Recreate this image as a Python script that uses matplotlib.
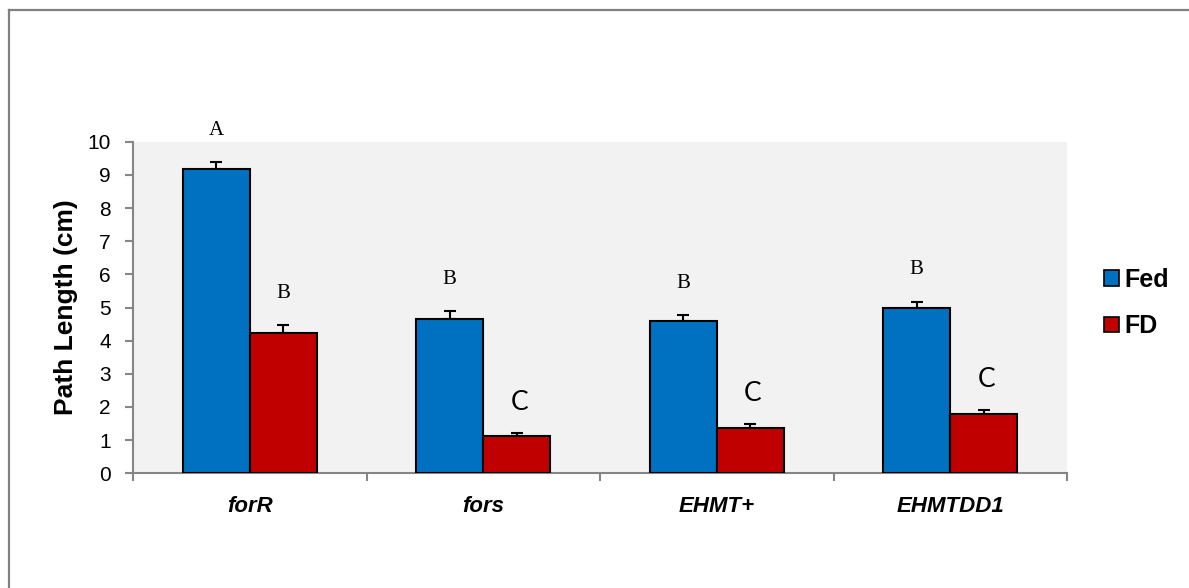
import matplotlib
matplotlib.use("Agg")
import matplotlib.pyplot as plt
from matplotlib.patches import Patch
from matplotlib.lines import Line2D
import numpy as np

categories = ["forR", "fors", "EHMT+", "EHMTDD1"]
fed = [9.17, 4.65, 4.59, 4.98]
fed_err = [0.21, 0.23, 0.17, 0.19]
fd = [4.24, 1.12, 1.37, 1.79]
fd_err = [0.23, 0.10, 0.12, 0.11]
fed_letters = ["A", "B", "B", "B"]
fd_letters = ["B", "C", "C", "C"]

blue = "#0070C0"
red = "#C00000"
grey = "#868686"

fig = plt.figure(figsize=(11.89, 5.88), dpi=100)
ax = fig.add_axes([133 / 1189, 114.7 / 588, 934 / 1189, 331.6 / 588])
ax.set_facecolor("#F2F2F2")

x = np.arange(len(categories))
w = 0.287
ax.bar(x - w / 2, fed, w, color=blue, edgecolor="black", linewidth=1.5, zorder=3)
ax.bar(x + w / 2, fd, w, color=red, edgecolor="black", linewidth=1.5, zorder=3)
ax.errorbar(x - w / 2, fed, yerr=[[0] * 4, fed_err], fmt="none", ecolor="black",
            elinewidth=1.5, capsize=4.3, capthick=1.5, zorder=2)
ax.errorbar(x + w / 2, fd, yerr=[[0] * 4, fd_err], fmt="none", ecolor="black",
            elinewidth=1.5, capsize=4.3, capthick=1.5, zorder=2)

def letter(xp, top, s):
    if s == "C":
        ax.annotate(s, (xp, top), xytext=(2, 22), textcoords="offset points",
                    ha="center", va="center", fontsize=19, family="Lato",
                    annotation_clip=False)
    else:
        ax.annotate(s, (xp, top), xytext=(0, 23), textcoords="offset points",
                    ha="center", va="center", fontsize=15, family="Liberation Serif",
                    annotation_clip=False)

for i in range(len(categories)):
    letter(x[i] - w / 2, fed[i] + fed_err[i], fed_letters[i])
    letter(x[i] + w / 2, fd[i] + fd_err[i], fd_letters[i])

ax.set_xlim(-0.5, 3.5)
ax.set_ylim(0, 10)
ax.set_yticks(range(0, 11))
ax.tick_params(axis="y", length=6, width=1.5, color=grey, pad=10,
               labelsize=15, direction="out")
for lab in ax.get_yticklabels():
    lab.set_family("Liberation Sans")

ax.set_xticks(x)
ax.set_xticklabels(categories, fontsize=16, fontweight="bold", style="italic",
                   family="Liberation Sans")
ax.tick_params(axis="x", length=0, pad=16)
ax.set_xticks(np.arange(-0.5, 4.0, 1.0), minor=True)
ax.tick_params(axis="x", which="minor", length=6, width=1.5, color=grey)

for side in ["top", "right"]:
    ax.spines[side].set_visible(False)
for side in ["left", "bottom"]:
    ax.spines[side].set_color(grey)
    ax.spines[side].set_linewidth(1.5)

ax.set_ylabel("Path Length (cm)", fontsize=19, fontweight="bold", family="Liberation Sans")
ax.yaxis.set_label_coords(-0.059, 0.5)

handles = [Patch(facecolor=blue, edgecolor="black", linewidth=1.2, label="Fed"),
           Patch(facecolor=red, edgecolor="black", linewidth=1.2, label="FD")]
leg = fig.legend(handles=handles, loc="center left",
                 bbox_to_anchor=(1086 / 1189, 1 - 303 / 588), frameon=False,
                 prop={"family": "Liberation Sans", "weight": "bold", "size": 18},
                 handlelength=0.6, handleheight=0.6, handletextpad=0.25,
                 labelspacing=0.9, borderpad=0.2)

fig.add_artist(Line2D([9 / 1189, 9 / 1189], [0, 1 - 10 / 588], color="#808080",
                      linewidth=1.6, transform=fig.transFigure))
fig.add_artist(Line2D([9 / 1189, 1], [1 - 10 / 588, 1 - 10 / 588], color="#808080",
                      linewidth=1.6, transform=fig.transFigure))

fig.savefig("out.png", dpi=100)
